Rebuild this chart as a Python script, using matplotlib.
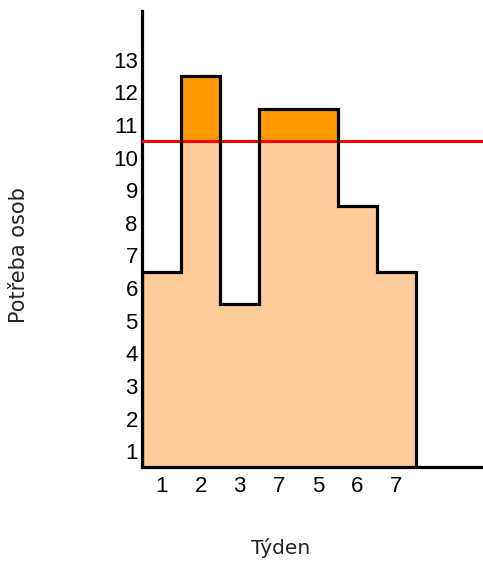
import numpy as np
import matplotlib.pyplot as plt

# data
weeks = ['1', '2', '3', '7', '5', '6', '7']
need = [6.5, 12.5, 5.5, 11.5, 11.5, 8.5, 6.5]
capacity = 10.5
yticks = list(range(1, 14))

fig = plt.figure(figsize=(4.83, 5.64), dpi=100)
ax = fig.add_axes([0.294, 0.1711, 0.706, 0.810])

x = np.arange(len(need))
edges = np.append(x, len(need))
vals = np.array(need)

# light fill up to capacity, darker part above it
ax.bar(x, np.minimum(vals, capacity) - 0.5, bottom=0.5, width=1.0, align='edge',
       color='#FFCC99', linewidth=0)
over = np.maximum(vals - capacity, 0)
ax.bar(x, over, bottom=capacity, width=1.0, align='edge',
       color='#FF9900', linewidth=0)

ax.axhline(capacity, color='#FF0000', lw=2.2, zorder=3)

# step outline
sx = np.repeat(edges, 2)[1:-1]
sy = np.repeat(vals, 2)
sx = np.concatenate([[0], sx, [len(need)]])
sy = np.concatenate([[0.5], sy, [0.5]])
ax.plot(sx, sy, color='black', lw=2.3, zorder=4, solid_joinstyle='miter')

ax.set_xlim(0, 8.72)
ax.set_ylim(0.5, 14.5)
ax.set_xticks(x + 0.5)
ax.set_xticklabels(weeks, family='Liberation Sans')
ax.set_yticks(yticks)
ax.set_yticklabels([str(t) for t in yticks], family='Liberation Sans')
ax.tick_params(length=0, labelsize=16)
ax.tick_params(axis='x', pad=6)
ax.tick_params(axis='y', pad=3)

for s in ['top', 'right']:
    ax.spines[s].set_visible(False)
for s in ['left', 'bottom']:
    ax.spines[s].set_linewidth(2.3)

fig.text(0.04, 0.547, 'Potřeba osob', rotation=90, ha='center', va='center',
         fontsize=15, color='#222222')
fig.text(0.58, 0.028, 'Týden', ha='center', va='center', fontsize=14.5, color='#222222')

fig.savefig('out.png', dpi=100)
